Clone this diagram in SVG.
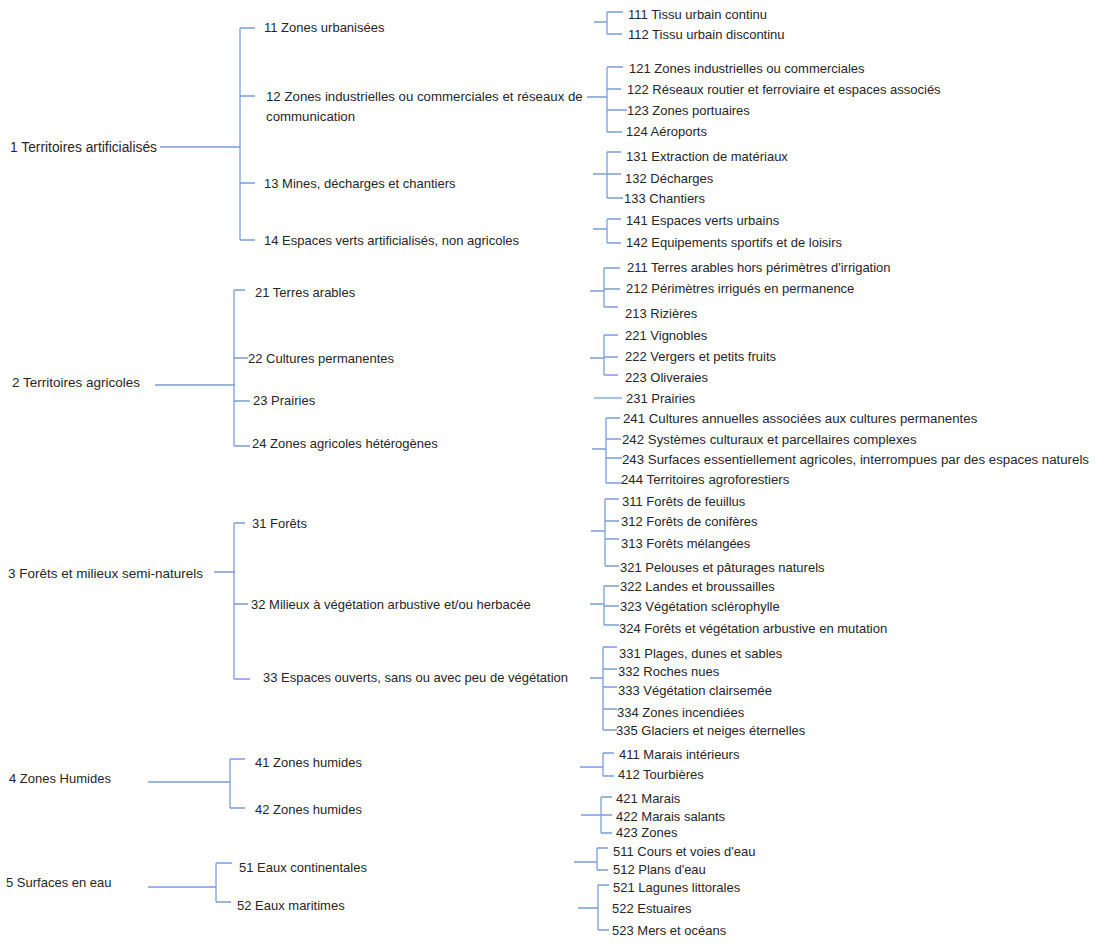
<svg xmlns="http://www.w3.org/2000/svg" width="1095" height="947" viewBox="0 0 1095 947">
<style>
text{font-family:"Liberation Sans",Arial,sans-serif;font-size:13px;fill:#262626}
.c path{fill:none;stroke:#7a9fd6;stroke-width:1.3}
.w1{font-size:13.8px}
.w2{font-size:13.5px}
.w3{font-size:13.25px}
</style>
<rect width="1095" height="947" fill="#ffffff"/>
<g class="c" id="connectors">
<path d="M160,147H240M240,28V240M240,28H255M240,96H255M240,183H255M240,240H255"/>
<path d="M155,385H235M234,290V446M234,290H245M234,358H248M234,401H250M234,446H250"/>
<path d="M214,572H235M234,523V679M234,523H245M234,604H248M234,679H250"/>
<path d="M148,782H230M230,759V808M230,759H245M230,808H245"/>
<path d="M148,887H216M216,863V902M216,863H232M216,902H231"/>
<path d="M594,22H607M607,12V34M607,12H623M607,34H622"/>
<path d="M587,97H607M607,67V132M607,67H623M607,89H621M607,110H627M607,132H622"/>
<path d="M593,174H607M607,152V198M607,152H621M607,174H621M607,198H623"/>
<path d="M593,229H607M607,219V243M607,219H621M607,243H621"/>
<path d="M590,291H604M604,268V307M604,268H620M604,289H620M604,307H618"/>
<path d="M590,358H604M604,335V375M604,335H618M604,357H618M604,375H618"/>
<path d="M594,398H622"/>
<path d="M592,449H606M606,418V483M606,418H620M606,439H621M606,458H622M606,483H622"/>
<path d="M591,531H605M605,499V566M605,499H619M605,521H619M605,539H619M605,566H619"/>
<path d="M590,604H604M604,586V625M604,586H619M604,606H619M604,625H619"/>
<path d="M590,678H603M603,647V730M603,647H617M603,669H617M603,687H617M603,709H617M603,730H617"/>
<path d="M580,767H603M603,753V776M603,753H614M603,776H614"/>
<path d="M581,815H601M601,797V833M601,797H612M601,815H612M601,833H612"/>
<path d="M574,862H597M597,848V870M597,848H608M597,870H608"/>
<path d="M578,908H598M598,885V930M598,885H609M598,930H609"/>
</g>
<g id="n1"><text class="w1" x="10" y="151.5">1 Territoires artificialisés</text></g>
<g id="n2"><text class="w2" x="12" y="386.5">2 Territoires agricoles</text></g>
<g id="n3"><text class="w2" x="8" y="577.5">3 Forêts et milieux semi-naturels</text></g>
<g id="n4"><text x="9" y="782.5">4 Zones Humides</text></g>
<g id="n5"><text x="6" y="886.5">5 Surfaces en eau</text></g>
<g id="n11"><text x="264" y="31.5">11 Zones urbanisées</text></g>
<g id="n12"><text class="w3" x="266" y="100.5">12 Zones industrielles ou commerciales et réseaux de</text><text class="w3" x="266" y="120.5">communication</text></g>
<g id="n13"><text x="264" y="187.5">13 Mines, décharges et chantiers</text></g>
<g id="n14"><text x="264" y="244.5">14 Espaces verts artificialisés, non agricoles</text></g>
<g id="n21"><text x="255" y="296.5">21 Terres arables</text></g>
<g id="n22"><text x="248" y="362.5">22 Cultures permanentes</text></g>
<g id="n23"><text x="253" y="404.5">23 Prairies</text></g>
<g id="n24"><text x="252" y="447.5">24 Zones agricoles hétérogènes</text></g>
<g id="n31"><text x="252" y="527.5">31 Forêts</text></g>
<g id="n32"><text x="251" y="608.5">32 Milieux à végétation arbustive et/ou herbacée</text></g>
<g id="n33"><text x="263" y="681.5">33 Espaces ouverts, sans ou avec peu de végétation</text></g>
<g id="n41"><text x="255" y="766.5">41 Zones humides</text></g>
<g id="n42"><text x="255" y="813.5">42 Zones humides</text></g>
<g id="n51"><text x="239" y="871.5">51 Eaux continentales</text></g>
<g id="n52"><text x="237" y="909.5">52 Eaux maritimes</text></g>
<g id="n111"><text x="628" y="18.5">111 Tissu urbain continu</text></g>
<g id="n112"><text x="628" y="38.5">112 Tissu urbain discontinu</text></g>
<g id="n121"><text x="629" y="72.5">121 Zones industrielles ou commerciales</text></g>
<g id="n122"><text x="627" y="93.5">122 Réseaux routier et ferroviaire et espaces associés</text></g>
<g id="n123"><text x="627" y="114.5">123 Zones portuaires</text></g>
<g id="n124"><text x="626" y="135.5">124 Aéroports</text></g>
<g id="n131"><text x="626" y="160.5">131 Extraction de matériaux</text></g>
<g id="n132"><text x="625" y="182.5">132 Décharges</text></g>
<g id="n133"><text x="624" y="202.5">133 Chantiers</text></g>
<g id="n141"><text x="626" y="224.5">141 Espaces verts urbains</text></g>
<g id="n142"><text x="626" y="246.5">142 Equipements sportifs et de loisirs</text></g>
<g id="n211"><text x="627" y="271.5">211 Terres arables hors périmètres d'irrigation</text></g>
<g id="n212"><text x="626" y="292.5">212 Périmètres irrigués en permanence</text></g>
<g id="n213"><text x="625" y="317.5">213 Rizières</text></g>
<g id="n221"><text x="625" y="339.5">221 Vignobles</text></g>
<g id="n222"><text x="625" y="360.5">222 Vergers et petits fruits</text></g>
<g id="n223"><text x="625" y="381.5">223 Oliveraies</text></g>
<g id="n231"><text x="626" y="402.5">231 Prairies</text></g>
<g id="n241"><text class="w3" x="623" y="422.5">241 Cultures annuelles associées aux cultures permanentes</text></g>
<g id="n242"><text class="w3" x="622" y="443.5">242 Systèmes culturaux et parcellaires complexes</text></g>
<g id="n243"><text class="w3" x="622" y="463.5">243 Surfaces essentiellement agricoles, interrompues par des espaces naturels</text></g>
<g id="n244"><text class="w3" x="621" y="483.5">244 Territoires agroforestiers</text></g>
<g id="n311"><text x="622" y="505.5">311 Forêts de feuillus</text></g>
<g id="n312"><text x="621" y="525.5">312 Forêts de conifères</text></g>
<g id="n313"><text x="621" y="547.5">313 Forêts mélangées</text></g>
<g id="n321"><text x="620" y="571.5">321 Pelouses et pâturages naturels</text></g>
<g id="n322"><text x="620" y="590.5">322 Landes et broussailles</text></g>
<g id="n323"><text x="620" y="610.5">323 Végétation sclérophylle</text></g>
<g id="n324"><text x="619" y="632.5">324 Forêts et végétation arbustive en mutation</text></g>
<g id="n331"><text x="619" y="657.5">331 Plages, dunes et sables</text></g>
<g id="n332"><text x="618" y="675.5">332 Roches nues</text></g>
<g id="n333"><text x="618" y="694.5">333 Végétation clairsemée</text></g>
<g id="n334"><text x="617" y="716.5">334 Zones incendiées</text></g>
<g id="n335"><text x="616" y="734.5">335 Glaciers et neiges éternelles</text></g>
<g id="n411"><text x="619" y="758.5">411 Marais intérieurs</text></g>
<g id="n412"><text x="618" y="778.5">412 Tourbières</text></g>
<g id="n421"><text x="616" y="802.5">421 Marais</text></g>
<g id="n422"><text x="616" y="820.5">422 Marais salants</text></g>
<g id="n423"><text x="616" y="836.5">423 Zones</text></g>
<g id="n511"><text x="613" y="855.5">511 Cours et voies d'eau</text></g>
<g id="n512"><text x="613" y="873.5">512 Plans d'eau</text></g>
<g id="n521"><text x="613" y="891.5">521 Lagunes littorales</text></g>
<g id="n522"><text x="612" y="912.5">522 Estuaires</text></g>
<g id="n523"><text x="612" y="934.5">523 Mers et océans</text></g>
</svg>
